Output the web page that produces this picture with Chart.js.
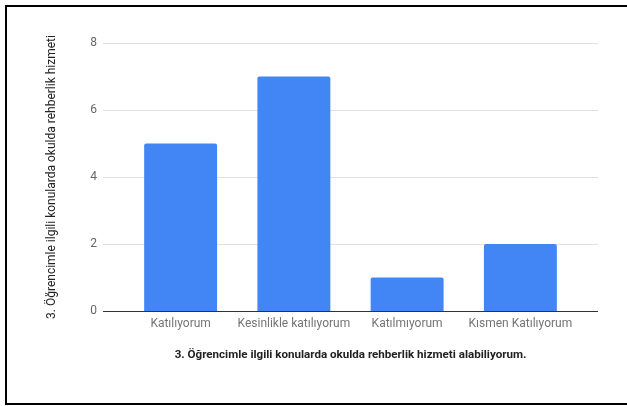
<!DOCTYPE html>
<html>
<head>
<meta charset="utf-8">
<script src="https://cdn.jsdelivr.net/npm/chart.js@4/dist/chart.umd.min.js"></script>
<style>
  html, body { margin: 0; padding: 0; background: #fff; overflow: hidden; }
  #wrap { position: relative; width: 627px; height: 406px; }
  #frame {
    position: absolute; left: 5px; top: 5px; width: 700px; height: 400px;
    box-sizing: border-box; border: 2px solid #000; pointer-events: none;
  }
</style>
</head>
<body>
<div id="wrap">
  <canvas id="chart" width="627" height="406"></canvas>
  <div id="frame"></div>
</div>
<script>
const categories = ["Katılıyorum", "Kesinlikle katılıyorum", "Katılmıyorum", "Kısmen Katılıyorum"];
const counts = [5, 7, 1, 2];
const yTicks = [0, 2, 4, 6, 8];
const xTitle = "3. Öğrencimle ilgili konularda okulda rehberlik hizmeti alabiliyorum.";
const yTitle = "3. Öğrencimle ilgili konularda okulda rehberlik hizmeti";

// gridlines run a bit wider than the bar area, like the google chart
const wideGrid = {
  id: "wideGrid",
  beforeDatasetsDraw(chart) {
    const { ctx, chartArea, scales } = chart;
    const x0 = chartArea.left - 21;
    const x1 = chartArea.right + 21;
    ctx.save();
    yTicks.forEach((v) => {
      const y = Math.round(scales.y.getPixelForValue(v)) + 0.5;
      ctx.strokeStyle = v === 0 ? "#333333" : "#e0e0e0";
      ctx.lineWidth = 1;
      ctx.beginPath();
      ctx.moveTo(x0, y);
      ctx.lineTo(x1, y);
      ctx.stroke();
    });
    ctx.restore();
  },
};

const ctx = document.getElementById("chart").getContext("2d");

new Chart(ctx, {
  type: "bar",
  data: {
    labels: categories,
    datasets: [
      {
        label: yTitle,
        data: counts,
        backgroundColor: "#4285f4",
        borderRadius: 2,
        borderSkipped: "bottom",
        barPercentage: 1,
        categoryPercentage: 0.644,
      },
    ],
  },
  options: {
    responsive: false,
    animation: false,
    layout: { padding: { top: 43, right: 50, left: 0, bottom: 0 } },
    plugins: {
      legend: { display: false },
      tooltip: { enabled: false },
    },
    scales: {
      x: {
        grid: { display: false, drawTicks: false },
        border: { display: false },
        ticks: {
          padding: 6,
          maxRotation: 0,
          minRotation: 0,
          autoSkip: false,
          color: "#757575",
          font: { family: "Roboto", size: 12 },
        },
        title: {
          display: true,
          text: xTitle,
          color: "#222222",
          font: { family: "Roboto", size: 11.6, weight: "bold" },
          padding: { top: 0, bottom: 44 },
        },
        afterFit: (scale) => {
          scale.height = 95;
        },
      },
      y: {
        min: 0,
        max: 8,
        afterBuildTicks: (scale) => {
          scale.ticks = yTicks.map((v) => ({ value: v }));
        },
        grid: { display: false, drawTicks: false },
        border: { display: false },
        ticks: {
          padding: 27,
          color: "#666666",
          font: { family: "Roboto", size: 12 },
        },
        title: {
          display: true,
          text: yTitle,
          color: "#222222",
          font: { family: "Roboto", size: 12 },
          padding: { top: 45, bottom: 0 },
        },
        afterFit: (scale) => {
          scale.width = 124;
        },
      },
    },
  },
  plugins: [wideGrid],
});
</script>
</body>
</html>
